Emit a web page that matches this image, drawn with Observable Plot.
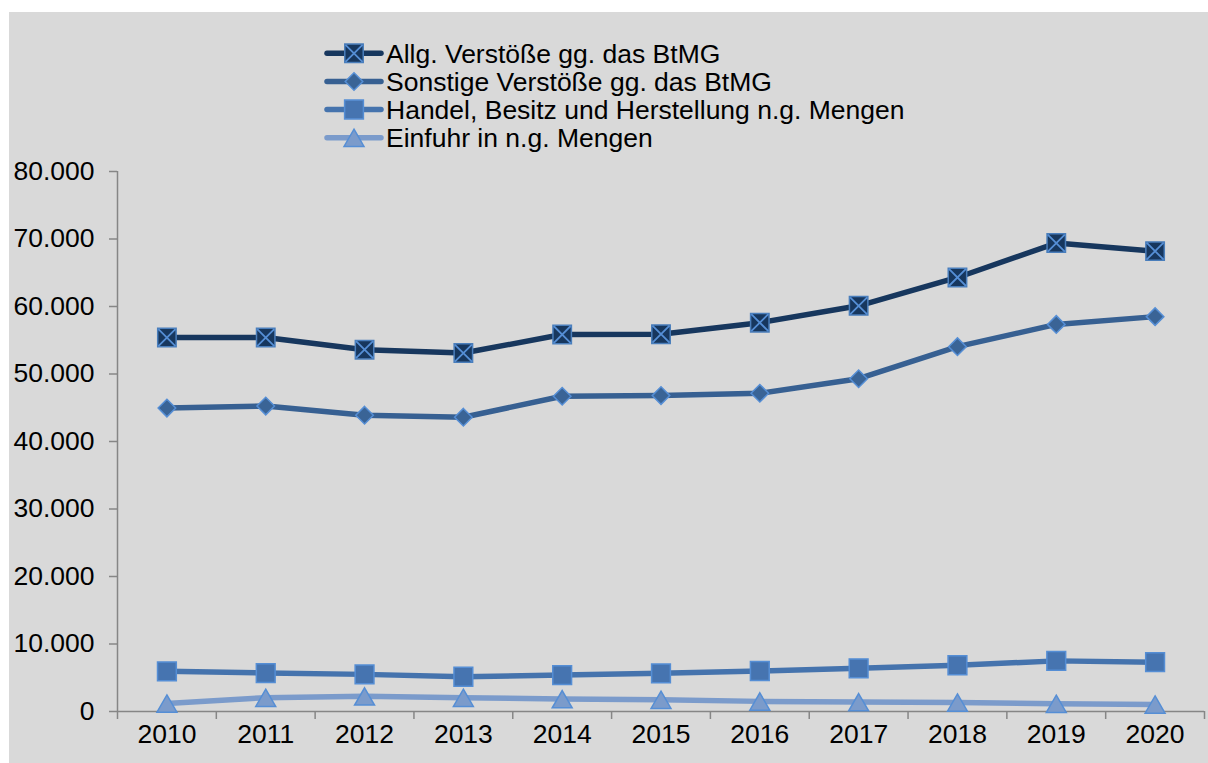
<!DOCTYPE html>
<html>
<head>
<meta charset="utf-8">
<script src="https://cdn.jsdelivr.net/npm/d3@7"></script>
<script src="https://cdn.jsdelivr.net/npm/@observablehq/plot@0.6"></script>
<style>
  html, body { margin: 0; padding: 0; background: #ffffff; }
  #frame { position: absolute; left: 9px; top: 12px; width: 1199px; height: 751px; background: #D9D9D9; overflow: hidden; font-family: "Liberation Sans", Arial, sans-serif; }
  #legend { display: block; width: 1199px; height: 140px; }
  #chart svg { display: block; }
</style>
</head>
<body>
<div id="frame">
  <svg id="legend"></svg>
  <div id="chart"></div>
</div>
<script>
const years = [2010, 2011, 2012, 2013, 2014, 2015, 2016, 2017, 2018, 2019, 2020];
const allg = [55400, 55400, 53600, 53100, 55850, 55900, 57600, 60100, 64300, 69400, 68200];
const sonstige = [44950, 45250, 43900, 43600, 46700, 46800, 47150, 49300, 54050, 57350, 58500];
const handel = [5950, 5700, 5500, 5150, 5400, 5650, 6000, 6400, 6850, 7500, 7300];
const einfuhr = [1200, 2050, 2250, 2050, 1850, 1750, 1500, 1400, 1350, 1150, 1050];
const seriesNames = [
  "Allg. Verstöße gg. das BtMG",
  "Sonstige Verstöße gg. das BtMG",
  "Handel, Besitz und Herstellung n.g. Mengen",
  "Einfuhr in n.g. Mengen"
];
const yTicks = [0, 10000, 20000, 30000, 40000, 50000, 60000, 70000, 80000];
const xBounds = [2009.5, 2010.5, 2011.5, 2012.5, 2013.5, 2014.5, 2015.5, 2016.5, 2017.5, 2018.5, 2019.5, 2020.5];

const FS = 26.5;
const styles = [
  {line: "#17375E", fill: "#17375E", stroke: "#4A7EBB", symbol: "square", r: 10.4, cross: true},
  {line: "#376092", fill: "#3A6496", stroke: "#558ED5", symbol: "diamond2", r: 7.9},
  {line: "#4573AD", fill: "#4674B0", stroke: "#558ED5", symbol: "square", r: 10.6},
  {line: "#7B9BCB", fill: "#7B9BCB", stroke: "#558ED5", symbol: "triangle", r: 7.4, dy: 3}
];
const valuesList = [allg, sonstige, handel, einfuhr];

const rows = [];
valuesList.forEach((vals, s) => vals.forEach((v, i) => rows.push({series: seriesNames[s], s, year: years[i], value: v})));

const de = d3.formatLocale({decimal: ",", thousands: ".", grouping: [3], currency: ["", " €"]});
const fmt = de.format(",");

const marks = [
  Plot.ruleX([2009.5], {y1: 0, y2: 80000, stroke: "#868686", strokeWidth: 1.5}),
  Plot.ruleY([0], {x1: 2009.5, x2: 2020.5, stroke: "#868686", strokeWidth: 1.5}),
  Plot.axisY({ticks: yTicks, tickSize: 8, tickPadding: 15, tickFormat: fmt, label: null, stroke: "#868686", fill: "black", strokeWidth: 1.5, fontSize: FS}),
  Plot.axisX({ticks: xBounds, tickSize: 8, tickFormat: () => "", label: null, stroke: "#868686", strokeWidth: 1.5}),
  Plot.text(years, {x: d => d, frameAnchor: "bottom", dy: 31, text: d => String(d), fontSize: FS, fill: "black"})
];
for (let s = 3; s >= 0; s--) {
  const st = styles[s];
  const data = rows.filter(d => d.s === s);
  marks.push(Plot.line(data, {x: "year", y: "value", stroke: st.line, strokeWidth: 5.5, strokeLinejoin: "round", strokeLinecap: "round"}));
  marks.push(Plot.dot(data, {x: "year", y: "value", symbol: st.symbol, r: st.r, fill: st.fill, stroke: st.stroke, strokeWidth: 1.5, dy: st.dy || 0}));
  if (st.cross) {
    marks.push(Plot.dot(data, {x: "year", y: "value", symbol: "times", r: 7.8, stroke: "#558ED5", strokeWidth: 1.8}));
  }
}

const chart = Plot.plot({
  width: 1199,
  height: 611,
  marginTop: 19,
  marginBottom: 52,
  marginLeft: 108,
  marginRight: 4,
  style: {background: "transparent", fontFamily: "'Liberation Sans', Arial, sans-serif", fontSize: FS + "px", color: "black", overflow: "visible"},
  x: {type: "linear", domain: [2009.5, 2020.5], axis: null, label: null},
  y: {domain: [0, 80000], axis: null, label: null},
  marks
});
document.getElementById("chart").appendChild(chart);

// Legend
const leg = d3.select("#legend");
const symMap = {square: d3.symbolSquare, diamond2: d3.symbolDiamond2, triangle: d3.symbolTriangle};
const rowY = [41.3, 69.5, 97.5, 125.7];
seriesNames.forEach((name, s) => {
  const st = styles[s];
  const g = leg.append("g").attr("transform", `translate(0,${rowY[s]})`);
  g.append("line").attr("x1", 318).attr("x2", 372).attr("y1", 0).attr("y2", 0)
    .attr("stroke", st.line).attr("stroke-width", 5.5).attr("stroke-linecap", "round");
  g.append("path").attr("transform", `translate(345,${st.dy || 0})`)
    .attr("d", d3.symbol(symMap[st.symbol], st.r * st.r * Math.PI)())
    .attr("fill", st.fill).attr("stroke", st.stroke).attr("stroke-width", 1.5);
  if (st.cross) {
    g.append("path").attr("transform", "translate(345,0)")
      .attr("d", d3.symbol(d3.symbolTimes, 7.8 * 7.8 * Math.PI)())
      .attr("fill", "none").attr("stroke", "#558ED5").attr("stroke-width", 1.8);
  }
  g.append("text").attr("x", 377).attr("y", 0).attr("dy", "0.35em")
    .attr("font-size", FS).attr("fill", "black")
    .attr("font-family", "'Liberation Sans', Arial, sans-serif")
    .text(name);
});
</script>
</body>
</html>
